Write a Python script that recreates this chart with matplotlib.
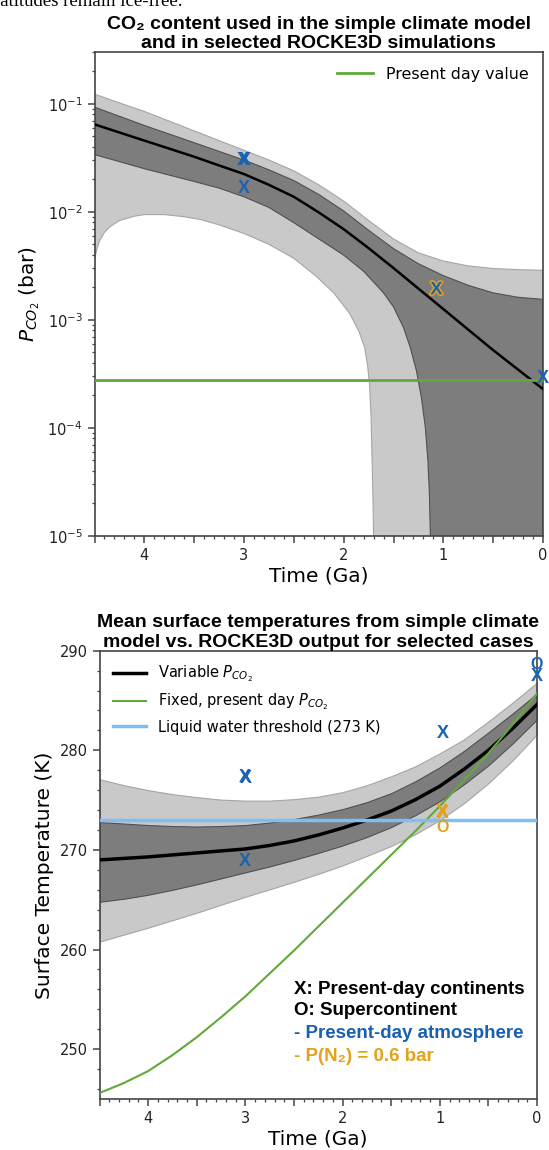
import matplotlib
matplotlib.use('Agg')
import numpy as np
import matplotlib.pyplot as plt
import matplotlib.ticker as mticker
import matplotlib.patheffects as pe

plt.rcParams['font.family'] = ['DejaVu Sans']
plt.rcParams['mathtext.fontset'] = 'dejavusans'

# ---------------- panel 1 : CO2 partial pressure (bar) vs time (Ga) ----------------
co2_t = [4.5, 4.25, 4.0, 3.75, 3.5, 3.25, 3.0, 2.75, 2.5, 2.25, 2.0, 1.75, 1.5, 1.25, 1.0,
         0.75, 0.5, 0.25, 0.0]
co2_mid = [0.0646, 0.0543, 0.0457, 0.0385, 0.0324, 0.0269, 0.0224, 0.0178, 0.0138, 0.00989,
           0.00692, 0.00462, 0.00302, 0.00195, 0.00126, 0.000813, 0.000525, 0.000347, 0.000229]
co2_dark_up = [0.0933, 0.0767, 0.0631, 0.0525, 0.0437, 0.0363, 0.0302, 0.0245, 0.0195, 0.0145,
               0.0102, 0.00676, 0.00457, 0.00331, 0.00257, 0.00209, 0.00178, 0.00162, 0.00155]
co2_light_up = [0.123, 0.102, 0.0851, 0.0692, 0.0562, 0.0457, 0.0372, 0.0302, 0.0240, 0.0178,
                0.0126, 0.00832, 0.00562, 0.00417, 0.00351, 0.00316, 0.00299, 0.00292, 0.00288]

co2_dark_lo_t = [4.5, 4.25, 4.0, 3.75, 3.5, 3.25, 3.0, 2.75, 2.5, 2.25, 2.0, 1.8, 1.6, 1.5, 1.4,
                 1.33, 1.27, 1.22, 1.18, 1.155, 1.14, 1.13, 1.12, 0.0]
co2_dark_lo = [0.0339, 0.0292, 0.0251, 0.0219, 0.0191, 0.0166, 0.0138, 0.0110, 0.00794, 0.00562,
               0.00398, 0.00282, 0.00178, 0.00132, 0.000851, 0.000550, 0.000339, 0.000191, 1.0e-4,
               5.0e-5, 2.5e-5, 1e-5, 1e-6, 1e-6]

co2_light_lo_t = [4.5, 4.48, 4.45, 4.4, 4.35, 4.25, 4.1, 4.0, 3.8, 3.6, 3.44, 3.25, 3.0, 2.75,
                  2.5, 2.27, 2.1, 1.94, 1.85, 1.79, 1.76, 1.74, 1.725, 1.715, 1.705, 1.70, 1.69, 0.0]
co2_light_lo = [0.00355, 0.00437, 0.00537, 0.00646, 0.00724, 0.00832, 0.00912, 0.00944, 0.00944,
                0.00902, 0.00851, 0.00759, 0.00631, 0.00501, 0.00372, 0.00251, 0.00178, 0.00115,
                0.000794, 0.000562, 0.000380, 0.000251, 0.000126, 5.0e-5, 2.0e-5, 1e-5, 1e-6, 1e-6]

co2_present = 2.8e-4

# ROCKE3D cases shown on panel 1
co2_x_pd_t = [3.01, 2.99, 3.0, 0.0]
co2_x_pd_p = [0.0300, 0.0300, 0.0163, 0.00029]
co2_x_n2_t = [1.07]
co2_x_n2_p = [0.0019]

# ---------------- panel 2 : surface temperature (K) vs time (Ga) ----------------
temp_t = [4.5, 4.25, 4.0, 3.75, 3.5, 3.25, 3.0, 2.75, 2.5, 2.25, 2.0, 1.75, 1.5, 1.25, 1.0,
          0.75, 0.5, 0.25, 0.0]
temp_mid = [269.0, 269.15, 269.3, 269.5, 269.7, 269.9, 270.1, 270.45, 270.9, 271.5, 272.2,
            273.0, 273.9, 275.05, 276.4, 278.1, 280.0, 282.2, 284.6]
temp_dark_up = [272.8, 272.65, 272.5, 272.4, 272.35, 272.4, 272.5, 272.75, 273.1, 273.55, 274.1,
                274.8, 275.7, 276.9, 278.3, 279.95, 281.8, 283.7, 285.7]
temp_dark_lo = [264.8, 265.1, 265.5, 266.0, 266.55, 267.15, 267.75, 268.35, 269.0, 269.7, 270.45,
                271.3, 272.3, 273.5, 274.9, 276.6, 278.5, 280.7, 283.1]
temp_light_up = [277.1, 276.5, 276.0, 275.6, 275.3, 275.05, 274.95, 274.95, 275.1, 275.35, 275.8,
                 276.5, 277.4, 278.4, 279.7, 281.1, 282.9, 284.8, 286.8]
temp_light_lo = [260.8, 261.5, 262.2, 262.95, 263.7, 264.5, 265.3, 266.05, 266.8, 267.6, 268.45,
                 269.4, 270.4, 271.6, 273.0, 274.7, 276.7, 279.0, 281.6]
temp_fixed = [245.6, 246.6, 247.8, 249.4, 251.2, 253.2, 255.3, 257.6, 259.9, 262.3, 264.7,
              267.1, 269.5, 271.9, 274.4, 277.0, 279.7, 282.6, 285.7]
water_threshold = 273

temp_x_pd_t = [3.01, 2.99, 3.0, 0.97, 0.0]
temp_x_pd_T = [277.3, 277.2, 268.8, 281.7, 287.4]
temp_o_pd_t = [0.0]
temp_o_pd_T = [288.6]
temp_x_n2_t = [0.975, 0.965]
temp_x_n2_T = [273.8, 273.7]
temp_o_n2_t = [0.97]
temp_o_n2_T = [272.3]

BLUE = '#1a63b3'
YELLOW = '#e3a21a'
GREEN = '#62a83a'
LIGHTBLUE = '#82bdf2'
LIGHT = '#c9c9c9'
DARK = '#7d7d7d'
SPINE = '#444444'
bold_sans = ['Liberation Sans', 'DejaVu Sans']

fig = plt.figure(figsize=(5.49, 11.5), dpi=100)
W, H = 549.0, 1150.0
ax1 = fig.add_axes([94.5 / W, 1 - 536 / H, (543 - 94.5) / W, (536 - 52.3) / H])
ax2 = fig.add_axes([99.5 / W, 1 - 1099 / H, (537 - 99.5) / W, (1099 - 650.7) / H])

# leftover line of the surrounding page text
fig.text(-5.2 / W, 1 - 6 / H, 'latitudes remain ice-free.', family='Liberation Serif',
         fontsize=13.5, va='baseline', ha='left')


def style_axis(ax):
    for s in ax.spines.values():
        s.set_color(SPINE)
        s.set_linewidth(1.2)
    ax.tick_params(which='major', length=5, width=1.1, color=SPINE, labelsize=10.5,
                   labelcolor='#222222')
    ax.tick_params(which='minor', length=2.5, width=0.9, color=SPINE)
    ax.set_xlim(4.5, 0)
    ax.xaxis.set_major_locator(mticker.MultipleLocator(0.5))
    ax.xaxis.set_minor_locator(mticker.MultipleLocator(0.1))
    ax.xaxis.set_major_formatter(mticker.FuncFormatter(
        lambda v, p: f'{v:.0f}' if abs(v - round(v)) < 1e-6 else ''))
    ax.set_xlabel('Time (Ga)', fontsize=14.5, labelpad=3)


def glyph(ax, xs, ys, s, color, size=13, stroke=None, strokew=2.2):
    for x, y in zip(xs, ys):
        t = ax.text(x, y, s, color=color, fontsize=size, fontweight='bold', family=bold_sans,
                    ha='center', va='center', zorder=10, clip_on=False)
        if stroke:
            t.set_path_effects([pe.withStroke(linewidth=strokew, foreground=stroke)])


# ---------- panel 1 ----------
ax1.set_yscale('log')
ax1.fill(np.r_[co2_t, co2_light_lo_t[::-1]], np.r_[co2_light_up, co2_light_lo[::-1]],
         facecolor=LIGHT, edgecolor='#a5a5a5', lw=0.8, zorder=1)
ax1.fill(np.r_[co2_t, co2_dark_lo_t[::-1]], np.r_[co2_dark_up, co2_dark_lo[::-1]],
         facecolor=DARK, edgecolor='#505050', lw=0.8, zorder=2)
ax1.plot(co2_t, co2_mid, color='black', lw=1.8, zorder=3)
ax1.axhline(co2_present, color=GREEN, lw=2, zorder=4, label='Present day value')
ax1.set_ylim(1e-5, 0.30)
style_axis(ax1)
ax1.set_ylabel('$P_{CO_2}$ (bar)', fontsize=14.5, labelpad=4)
ax1.legend(loc='upper right', frameon=False, fontsize=11.4, handlelength=2.3)
ax1.set_title('CO\u2082 content used in the simple climate model\nand in selected ROCKE3D simulations',
              family=bold_sans, fontweight='bold', fontsize=14, pad=3)
glyph(ax1, co2_x_pd_t, co2_x_pd_p, 'X', BLUE)
glyph(ax1, co2_x_n2_t, co2_x_n2_p, 'X', BLUE, stroke=YELLOW)

# ---------- panel 2 ----------
ax2.fill_between(temp_t, temp_light_lo, temp_light_up, facecolor=LIGHT, edgecolor='#a5a5a5',
                 lw=0.8, zorder=1)
ax2.fill_between(temp_t, temp_dark_lo, temp_dark_up, facecolor=DARK, edgecolor='#505050',
                 lw=0.8, zorder=2)
ax2.plot(temp_t, temp_mid, color='black', lw=2.5, zorder=3, label='Variable $P_{CO_2}$')
ax2.plot(temp_t, temp_fixed, color=GREEN, lw=1.5, zorder=4, label='Fixed, present day $P_{CO_2}$')
ax2.axhline(water_threshold, color=LIGHTBLUE, lw=2.5, zorder=4,
            label='Liquid water threshold (273 K)')
ax2.set_ylim(245, 290)
ax2.yaxis.set_major_locator(mticker.MultipleLocator(10))
ax2.yaxis.set_minor_locator(mticker.MultipleLocator(2))
style_axis(ax2)
ax2.set_ylabel('Surface Temperature (K)', fontsize=14.5, labelpad=4)
ax2.legend(loc='upper left', frameon=False, fontsize=10.5, handlelength=2.3)
ax2.set_title('Mean surface temperatures from simple climate\nmodel vs. ROCKE3D output for selected cases',
              family=bold_sans, fontweight='bold', fontsize=14, pad=3)
glyph(ax2, temp_x_pd_t, temp_x_pd_T, 'X', BLUE)
glyph(ax2, temp_o_pd_t, temp_o_pd_T, 'O', BLUE, size=11.5)
glyph(ax2, temp_x_n2_t, temp_x_n2_T, 'X', YELLOW)
glyph(ax2, temp_o_n2_t, temp_o_n2_T, 'O', YELLOW, size=11.5)

notes = ['X: Present-day continents', 'O: Supercontinent', '- Present-day atmosphere',
         '- P(N\u2082) = 0.6 bar']
note_colors = ['black', 'black', '#1a5fb0', YELLOW]
note_y = [0.2447, 0.1985, 0.1466, 0.0944]
for txt, c, y in zip(notes, note_colors, note_y):
    ax2.text(0.4446, y, txt, transform=ax2.transAxes, color=c, fontsize=13.5,
             fontweight='bold', family=bold_sans, ha='left', va='center', zorder=11)

fig.savefig('out.png', dpi=100)
